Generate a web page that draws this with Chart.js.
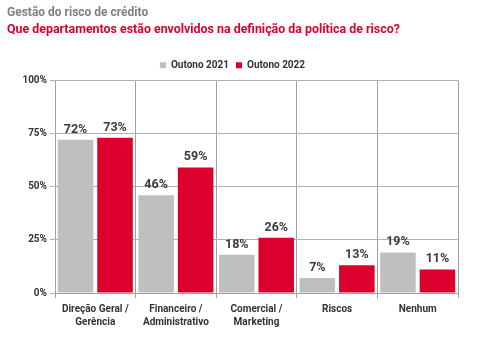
<!DOCTYPE html>
<html>
<head>
<meta charset="utf-8">
<script src="https://cdn.jsdelivr.net/npm/chart.js@4"></script>
<style>
  html, body { margin: 0; padding: 0; background: #fff; }
  #wrap { width: 481px; height: 337px; position: relative; }
</style>
</head>
<body>
<div id="wrap"><canvas id="chart"></canvas></div>
<script>
// Gestão do risco de crédito - grouped bars, two seasons
const categories = [
  ['Direção Geral /', 'Gerência'],
  ['Financeiro /', 'Administrativo'],
  ['Comercial /', 'Marketing'],
  ['Riscos'],
  ['Nenhum']
];
const outono2021 = [72, 46, 18, 7, 19];
const outono2022 = [73, 59, 26, 13, 11];
const seriesLabels = ['Outono 2021', 'Outono 2022'];
const yTicks = [0, 25, 50, 75, 100];

const FONT = "'Roboto', sans-serif";
const GRAY = '#bfbfbf';
const RED = '#dc002d';

// values drawn above each bar
const valueLabels = {
  id: 'valueLabels',
  afterDatasetsDraw(chart) {
    const ctx = chart.ctx;
    ctx.save();
    ctx.font = 'bold 12.5px ' + FONT;
    ctx.fillStyle = '#3a3a3a';
    ctx.textAlign = 'center';
    ctx.textBaseline = 'bottom';
    chart.data.datasets.forEach((ds, i) => {
      chart.getDatasetMeta(i).data.forEach((bar, j) => {
        ctx.fillText(ds.data[j] + '%', bar.x, bar.y - 4);
      });
    });
    ctx.restore();
  }
};

new Chart(document.getElementById('chart'), {
  type: 'bar',
  data: {
    labels: categories,
    datasets: [
      { label: seriesLabels[0], data: outono2021, backgroundColor: GRAY },
      { label: seriesLabels[1], data: outono2022, backgroundColor: RED }
    ]
  },
  options: {
    responsive: true,
    maintainAspectRatio: false,
    animation: false,
    categoryPercentage: 0.98,
    barPercentage: 0.9,
    layout: { padding: { left: 7, right: 23, top: 6, bottom: 3 } },
    plugins: {
      title: {
        display: true,
        align: 'start',
        text: 'Gestão do risco de crédito',
        color: '#808080',
        font: { family: FONT, size: 12, weight: 'bold' },
        padding: { top: 0, bottom: 2 }
      },
      subtitle: {
        display: true,
        align: 'start',
        text: 'Que departamentos estão envolvidos na definição da política de risco?',
        color: RED,
        font: { family: FONT, size: 12.4, weight: 'bold' },
        padding: { top: 0, bottom: 16 }
      },
      legend: {
        display: true,
        labels: {
          boxWidth: 6,
          boxHeight: 6,
          color: '#333',
          padding: 7,
          font: { family: FONT, size: 10, weight: 'bold' }
        }
      },
      tooltip: { enabled: false }
    },
    scales: {
      x: {
        grid: { color: '#a0a0a0', drawTicks: true, tickLength: 5 },
        border: { color: '#a0a0a0' },
        ticks: {
          color: '#333',
          padding: 5,
          font: { family: FONT, size: 10, weight: 'bold', lineHeight: 1.3 }
        }
      },
      y: {
        min: 0,
        max: 100,
        afterBuildTicks: axis => { axis.ticks = yTicks.map(v => ({ value: v })); },
        afterFit: axis => { axis.width = 48; },
        grid: { color: '#b0b0b0', tickLength: 5 },
        border: { display: false },
        ticks: {
          color: '#333',
          padding: 3,
          font: { family: FONT, size: 10, weight: 'bold' },
          callback: v => v + '%'
        }
      }
    }
  },
  plugins: [valueLabels]
});
</script>
</body>
</html>
